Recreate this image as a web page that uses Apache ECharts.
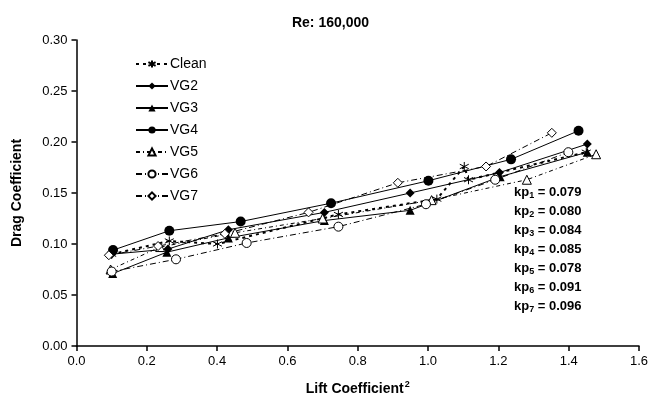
<!DOCTYPE html>
<html>
<head>
<meta charset="utf-8">
<script src="https://cdn.jsdelivr.net/npm/echarts@6/dist/echarts.min.js"></script>
<style>
  html, body { margin: 0; padding: 0; background: #fff; }
  #chart { width: 661px; height: 406px; }
</style>
</head>
<body>
<div id="chart"></div>
<script>
  // x = lift coefficient^2, y = drag coefficient
  var cleanData = [[0.10, 0.090], [0.264, 0.103], [0.401, 0.100], [0.745, 0.129], [1.025, 0.144], [1.103, 0.176], [1.115, 0.163], [1.45, 0.190]];
  var vg2Data = [[0.10, 0.090], [0.26, 0.095], [0.432, 0.114], [0.705, 0.131], [0.949, 0.150], [1.203, 0.170], [1.453, 0.198]];
  var vg3Data = [[0.103, 0.071], [0.257, 0.092], [0.432, 0.106], [0.705, 0.123], [0.949, 0.133], [1.205, 0.166], [1.453, 0.190]];
  var vg4Data = [[0.104, 0.094], [0.264, 0.113], [0.467, 0.122], [0.724, 0.140], [1.001, 0.162], [1.236, 0.183], [1.428, 0.211]];
  var vg5Data = [[0.097, 0.075], [0.238, 0.097], [0.451, 0.111], [0.70, 0.125], [1.010, 0.143], [1.281, 0.163], [1.478, 0.188]];
  var vg6Data = [[0.10, 0.073], [0.283, 0.085], [0.484, 0.101], [0.745, 0.117], [0.994, 0.139], [1.191, 0.163], [1.399, 0.190]];
  var vg7Data = [[0.092, 0.089], [0.232, 0.098], [0.422, 0.110], [0.66, 0.131], [0.914, 0.160], [1.165, 0.176], [1.352, 0.209]];

  var seriesNames = ['Clean', 'VG2', 'VG3', 'VG4', 'VG5', 'VG6', 'VG7'];
  var kpValues = ['0.079', '0.080', '0.084', '0.085', '0.078', '0.091', '0.096'];

  var FONT = 'Liberation Sans, Arial, sans-serif';
  var star = 'path://M0,-10L0,10M-8.7,-5L8.7,5M-8.7,5L8.7,-5';

  function mkSeries(name, data, symbol, size, filled, line) {
    return {
      name: name,
      type: 'line',
      data: data,
      symbol: symbol,
      symbolSize: size,
      showSymbol: true,
      itemStyle: filled
        ? { color: '#000', borderColor: '#000', borderWidth: 0 }
        : { color: symbol === star ? 'rgba(0,0,0,0)' : '#fff', borderColor: '#000', borderWidth: 1 },
      lineStyle: line,
      emphasis: { disabled: true },
      animation: false
    };
  }

  var chart = echarts.init(document.getElementById('chart'));

  // kp text block (right side), subscripts via rich text
  var kpText = kpValues.map(function (v, i) {
    return '{b|kp}{s|' + (i + 1) + '}{b| = ' + v + '}';
  }).join('\n');

  chart.setOption({
    backgroundColor: '#fff',
    title: {
      text: 'Re: 160,000',
      left: 'center',
      top: 11,
      textStyle: { fontFamily: FONT, fontSize: 14, fontWeight: 'bold', color: '#000' }
    },
    legend: {
      orient: 'vertical',
      left: 130,
      top: 52,
      itemWidth: 32,
      itemHeight: 9,
      itemGap: 8,
      data: seriesNames,
      textStyle: { fontFamily: FONT, fontSize: 14, lineHeight: 14, color: '#000', padding: [0, 0, 0, -3] }
    },
    grid: { left: 76.5, right: 22, top: 40, bottom: 60 },
    xAxis: {
      type: 'value',
      min: 0,
      max: 1.6,
      interval: 0.2,
      name: 'Lift Coefficient{sup|2}',
      nameLocation: 'middle',
      nameGap: 34,
      nameTextStyle: {
        fontFamily: FONT, fontSize: 14, fontWeight: 'bold', color: '#000',
        rich: { sup: { fontFamily: FONT, fontSize: 9, fontWeight: 'bold', color: '#000', padding: [0, 0, 9, 1] } }
      },
      splitLine: { show: false },
      axisLine: { lineStyle: { color: '#000', width: 1.5 } },
      axisTick: { length: 5, lineStyle: { color: '#000', width: 1.5 } },
      axisLabel: { color: '#000', fontFamily: FONT, fontSize: 13, margin: 9, formatter: function (v) { return v.toFixed(1); } }
    },
    yAxis: {
      type: 'value',
      min: 0,
      max: 0.3,
      interval: 0.05,
      name: 'Drag Coefficient',
      nameLocation: 'middle',
      nameGap: 52,
      nameTextStyle: { fontFamily: FONT, fontSize: 14, fontWeight: 'bold', color: '#000' },
      splitLine: { show: false },
      axisLine: { show: true, lineStyle: { color: '#000', width: 1.5 } },
      axisTick: { show: true, length: 5, lineStyle: { color: '#000', width: 1.5 } },
      axisLabel: { color: '#000', fontFamily: FONT, fontSize: 13, margin: 9, formatter: function (v) { return v.toFixed(2); } }
    },
    graphic: [{
      type: 'text',
      left: 514,
      top: 183,
      style: {
        text: kpText,
        lineHeight: 19,
        font: 'bold 13px ' + FONT,
        fill: '#000',
        rich: {
          b: { fontFamily: FONT, fontSize: 13, fontWeight: 'bold', color: '#000', lineHeight: 19 },
          s: { fontFamily: FONT, fontSize: 9, fontWeight: 'bold', color: '#000', lineHeight: 19, padding: [6, 0, 0, 0] }
        }
      }
    }],
    series: [
      mkSeries('Clean', cleanData, star, 9, false, { color: '#000', width: 2, type: [3, 4] }),
      mkSeries('VG2', vg2Data, 'diamond', 9, true, { color: '#000', width: 1 }),
      mkSeries('VG3', vg3Data, 'triangle', 9, true, { color: '#000', width: 1 }),
      mkSeries('VG4', vg4Data, 'circle', 10, true, { color: '#000', width: 1 }),
      mkSeries('VG5', vg5Data, 'triangle', 9, false, { color: '#000', width: 1, type: [4, 3, 1, 3] }),
      mkSeries('VG6', vg6Data, 'circle', 9, false, { color: '#000', width: 1, type: [6, 3, 1, 3] }),
      mkSeries('VG7', vg7Data, 'diamond', 9, false, { color: '#000', width: 1, type: [6, 3, 1, 3] })
    ]
  });
</script>
</body>
</html>
